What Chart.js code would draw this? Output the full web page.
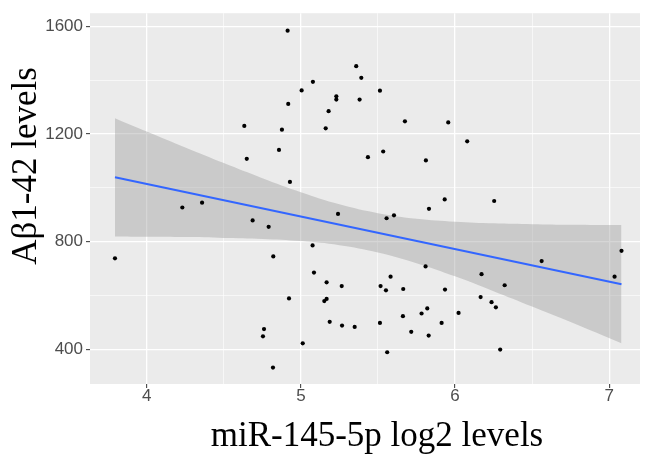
<!DOCTYPE html>
<html><head><meta charset="utf-8">
<script src="https://cdn.jsdelivr.net/npm/chart.js@4/dist/chart.umd.min.js"></script>
<style>html,body{margin:0;padding:0;background:#fff;}#wrap{width:648px;height:454px;}</style>
</head><body><div id="wrap"><canvas id="c" width="648" height="454"></canvas></div>
<script>
// miR-145-5p log2 levels (x) and Aβ1-42 levels (y) for each sample
const xValues = [4.914,5.359,5.392,5.078,5.005,5.230,5.230,5.381,4.918,5.180,4.633,4.877,5.161,4.858,4.649,5.435,4.929,5.513,5.675,5.956,6.079,5.534,5.811,5.933,6.254,4.231,4.359,4.687,4.791,5.241,3.794,4.821,5.076,5.085,5.167,5.265,4.923,5.152,5.167,5.187,5.267,5.349,4.761,4.754,5.012,4.819,5.831,5.556,5.604,7.080,6.562,7.035,5.809,6.172,6.322,5.582,5.517,5.552,5.664,5.935,6.166,6.237,6.265,5.820,5.783,5.662,6.023,5.513,5.716,5.829,5.913,5.560,6.293];
const yValues = [1584,1452,1409,1394,1362,1340,1328,1328,1312,1285,1230,1216,1221,1141,1108,1114,1022,1361,1247,1243,1173,1135,1102,957,951,927,945,879,855,903,738,745,786,685,649,635,589,579,587,502,488,483,475,448,422,332,922,887,898,766,728,670,708,679,638,670,635,619,624,622,594,575,556,552,533,523,535,498,465,451,498,389,399];
// fitted line
const fitX = [3.794, 7.080];
const fitY = [1039, 642];
// confidence band
const bandX     = [3.794,4.0,4.25,4.5,4.75,5.0,5.25,5.5,5.75,6.0,6.25,6.5,6.75,7.080];
const bandUpper = [1259,1209,1150,1092,1036,984,939,906,885,874,868,865,863,862];
const bandLower = [819,818,817,814,810,802,787,760,720,671,616,559,501,422];
// axes
const xTicks = [4,4.5,5,5.5,6,6.5,7];
const xTickLabels = ['4','','5','','6','','7'];
const yTicks = [400,600,800,1000,1200,1400,1600];
const yTickLabels = ['400','','800','','1200','','1600'];
const xTitle = 'miR-145-5p log2 levels';
const yTitle = 'Aβ1-42 levels';

const toPts = (xs, ys) => xs.map((x, i) => ({x: x, y: ys[i]}));

const bgPlugin = {id:'bg', beforeDraw(chart){
  const {ctx, chartArea:a} = chart;
  ctx.save(); ctx.fillStyle = '#EBEBEB';
  ctx.fillRect(a.left, a.top, a.right - a.left, a.bottom - a.top);
  ctx.restore();
}};
const titlePlugin = {id:'titles', afterDraw(chart){
  const ctx = chart.ctx;
  ctx.save();
  ctx.fillStyle = '#000';
  ctx.font = '35px "Liberation Serif", "Times New Roman", serif';
  ctx.textAlign = 'center';
  ctx.textBaseline = 'alphabetic';
  ctx.fillText(xTitle, 377, 446);
  ctx.translate(27, 166);
  ctx.rotate(-Math.PI/2);
  ctx.textBaseline = 'middle';
  ctx.fillText(yTitle, 0, 0);
  ctx.restore();
}};

const tickFont = {family: '"Liberation Sans", Arial, sans-serif', size: 17};

new Chart(document.getElementById('c'), {
  type: 'scatter',
  data: {datasets: [
    {type:'line', data: toPts(bandX, bandUpper), showLine:true, borderWidth:0, pointRadius:0, fill:'+1', backgroundColor:'rgba(153,153,153,0.4)', borderColor:'rgba(0,0,0,0)', tension:0.4, order:3},
    {type:'line', data: toPts(bandX, bandLower), showLine:true, borderWidth:0, pointRadius:0, fill:false, borderColor:'rgba(0,0,0,0)', tension:0.4, order:3},
    {type:'line', data: toPts(fitX, fitY), showLine:true, borderColor:'#3366FF', borderWidth:2, pointRadius:0, fill:false, order:1},
    {data: toPts(xValues, yValues), pointRadius:2.1, pointBackgroundColor:'#000', pointBorderWidth:0, showLine:false, order:2}
  ]},
  options: {
    responsive:false, devicePixelRatio:1, animation:false,
    layout:{padding:{top:10, right:8, left:0, bottom:0}},
    plugins:{legend:{display:false}, tooltip:{enabled:false}},
    scales:{
      x:{type:'linear', min:3.632, max:7.2,
        afterBuildTicks: s => { s.ticks = xTicks.map(v => ({value:v})); },
        afterFit: s => { s.height = 70; },
        border:{display:false},
        grid:{color:'#FFFFFF', lineWidth: c => (c.index % 2 === 0 ? 1.3 : 0.6), tickLength:4, tickWidth:1,
          tickColor: c => (c.index % 2 === 0 ? '#333333' : 'rgba(0,0,0,0)')},
        ticks:{autoSkip:false, maxRotation:0, padding:-2, color:'#4D4D4D', font:tickFont,
          callback: (v, i) => xTickLabels[i]}
      },
      y:{type:'linear', min:271, max:1649,
        afterBuildTicks: s => { s.ticks = yTicks.map(v => ({value:v})); },
        afterFit: s => { s.width = 90; },
        border:{display:false},
        grid:{color:'#FFFFFF', lineWidth: c => (c.index % 2 === 0 ? 1.3 : 0.6), tickLength:4, tickWidth:1,
          tickColor: c => (c.index % 2 === 0 ? '#333333' : 'rgba(0,0,0,0)')},
        ticks:{autoSkip:false, padding:3, color:'#4D4D4D', font:tickFont,
          callback: (v, i) => yTickLabels[i]}
      }
    }
  },
  plugins:[bgPlugin, titlePlugin]
});
</script></body></html>
